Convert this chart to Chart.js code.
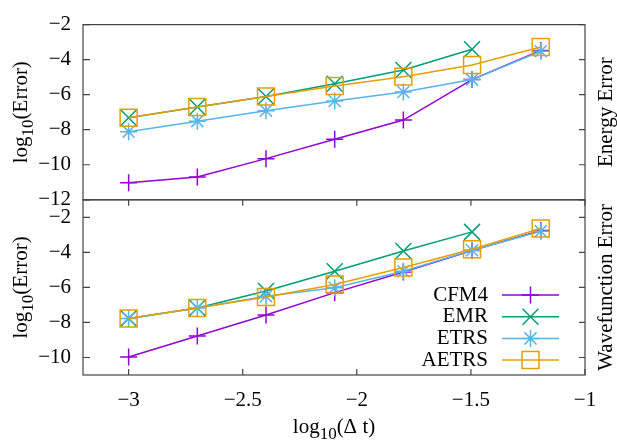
<!DOCTYPE html>
<html>
<head>
<meta charset="utf-8">
<script src="https://cdn.jsdelivr.net/npm/chart.js@4.4.0/dist/chart.umd.min.js"></script>
<style>
  html, body { margin: 0; padding: 0; background: #fff; }
</style>
</head>
<body>
<canvas id="errChart" width="617" height="440"></canvas>
<script>
// log10 of the time steps
const logDt = [-3, -2.699, -2.398, -2.097, -1.796, -1.495, -1.194];
const methods = ['CFM4', 'EMR', 'ETRS', 'AETRS'];

// top panel: energy error
const energyCFM4 = [-11.02, -10.70, -9.65, -8.54, -7.45, -5.14, -3.48];
const energyEMR = [-7.32, -6.70, -6.10, -5.38, -4.59, -3.41, null];
const energyETRS = [-8.11, -7.51, -6.92, -6.36, -5.85, -5.14, -3.52];
const energyAETRS = [-7.32, -6.70, -6.10, -5.50, -4.97, -4.31, -3.28];

// bottom panel: wavefunction error
const waveCFM4 = [-9.97, -8.77, -7.58, -6.30, -5.12, -3.90, -2.75];
const waveEMR = [-7.77, -7.17, -6.21, -5.08, -3.92, -2.83, null];
const waveETRS = [-7.77, -7.17, -6.50, -6.02, -5.08, -3.88, -2.79];
const waveAETRS = [-7.77, -7.17, -6.55, -5.84, -4.86, -3.82, -2.64];

const xTicks = [-3, -2.5, -2, -1.5, -1];
const xTickLabels = ['\u22123', '\u22122.5', '\u22122', '\u22121.5', '\u22121'];
const topTicks = [-12, -10, -8, -6, -4, -2];
const topTickLabels = ['\u221212', '\u221210', '\u22128', '\u22126', '\u22124', '\u22122'];
const botTicks = [-10, -8, -6, -4, -2];
const botTickLabels = ['\u221210', '\u22128', '\u22126', '\u22124', '\u22122'];

const yTitle = ['log', '10', '(Error)'];
const xTitle = ['log', '10', '(\u0394 t)'];
const topSideTitle = 'Energy Error';
const botSideTitle = 'Wavefunction Error';

// styles
const colors = ['#9400d3', '#009e73', '#56b4e9', '#e69f00'];
const markers = ['cross', 'crossRot', 'star', 'rect'];
const markerRadius = [8.5, 11.3, 8.5, 12];
const FONT = 'Liberation Serif';
const FS = 21;

function makeSets(series, axisId) {
    return series.map((vals, i) => ({
        label: methods[i],
        data: logDt.map((x, k) => ({ x: x, y: vals[k] })),
        yAxisID: axisId,
        borderColor: colors[i],
        backgroundColor: 'rgba(0,0,0,0)',
        borderWidth: 1.5,
        pointStyle: markers[i],
        pointRadius: markerRadius[i],
        pointBorderWidth: 1.5,
        pointBorderColor: colors[i],
        pointBackgroundColor: 'rgba(0,0,0,0)',
        order: 3 - i,
        tension: 0
    }));
}

function fixTicks(list) {
    return function (scale) {
        scale.ticks = list.map(v => ({ value: v }));
    };
}

// text with a subscript part, optionally rotated
function drawSubText(ctx, parts, x, y, rot) {
    const main = FS + 'px "' + FONT + '"';
    const sub = Math.round(FS * 0.8) + 'px "' + FONT + '"';
    let total = 0;
    const widths = parts.map((t, i) => {
        ctx.font = i === 1 ? sub : main;
        const w = ctx.measureText(t).width;
        total += w;
        return w;
    });
    ctx.save();
    ctx.translate(x, y);
    ctx.rotate(rot);
    ctx.fillStyle = '#000';
    ctx.textBaseline = 'alphabetic';
    ctx.textAlign = 'left';
    let cx = -total / 2;
    parts.forEach((t, i) => {
        ctx.font = i === 1 ? sub : main;
        ctx.fillText(t, cx, i === 1 ? 6 : 0);
        cx += widths[i];
    });
    ctx.restore();
}

const gnuFrame = {
    id: 'gnuFrame',
    afterDraw(chart) {
        const ctx = chart.ctx;
        const area = chart.chartArea;
        const xs = chart.scales.x;
        const yt = chart.scales.yTop;
        const yb = chart.scales.yBot;

        ctx.save();
        ctx.strokeStyle = '#444';
        ctx.lineWidth = 1.2;
        [yt, yb].forEach(s => {
            ctx.strokeRect(area.left, s.top, area.right - area.left, s.bottom - s.top);
            ctx.beginPath();
            s.ticks.forEach(t => {
                const py = s.getPixelForValue(t.value);
                ctx.moveTo(area.left, py);
                ctx.lineTo(area.left + 7, py);
                ctx.moveTo(area.right, py);
                ctx.lineTo(area.right - 6, py);
            });
            ctx.stroke();
        });
        ctx.beginPath();
        xs.ticks.forEach(t => {
            const px = xs.getPixelForValue(t.value);
            ctx.moveTo(px, yb.bottom);
            ctx.lineTo(px, yb.bottom - 6);
            ctx.moveTo(px, yb.top);
            ctx.lineTo(px, yb.top + 6);
        });
        ctx.stroke();
        ctx.restore();

        // axis titles
        const topMid = (yt.top + yt.bottom) / 2;
        const botMid = (yb.top + yb.bottom) / 2;
        drawSubText(ctx, yTitle, 26.5, topMid, -Math.PI / 2);
        drawSubText(ctx, yTitle, 26.5, botMid, -Math.PI / 2);
        drawSubText(ctx, xTitle, (area.left + area.right) / 2, 433, 0);

        ctx.save();
        ctx.fillStyle = '#000';
        ctx.font = FS + 'px "' + FONT + '"';
        ctx.textAlign = 'center';
        ctx.textBaseline = 'alphabetic';
        [[topSideTitle, topMid], [botSideTitle, botMid]].forEach(([t, my]) => {
            ctx.save();
            ctx.translate(612, my);
            ctx.rotate(-Math.PI / 2);
            ctx.fillText(t, 0, 0);
            ctx.restore();
        });

        // legend inside the bottom panel
        ctx.textAlign = 'right';
        ctx.textBaseline = 'middle';
        methods.forEach((m, i) => {
            const ly = 295 + i * 21.7;
            ctx.fillStyle = '#000';
            ctx.fillText(m, 488, ly);
            ctx.strokeStyle = colors[i];
            ctx.lineWidth = 1.5;
            ctx.beginPath();
            ctx.moveTo(502, ly);
            ctx.lineTo(559, ly);
            ctx.stroke();
            ctx.fillStyle = 'rgba(0,0,0,0)';
            Chart.helpers.drawPoint(ctx, {
                pointStyle: markers[i],
                radius: markerRadius[i],
                rotation: 0,
                borderWidth: 1.5
            }, 530.5, ly);
        });
        ctx.restore();
    }
};

const tickFont = { family: FONT, size: FS };

new Chart(document.getElementById('errChart'), {
    type: 'line',
    data: {
        datasets: makeSets([energyCFM4, energyEMR, energyETRS, energyAETRS], 'yTop')
            .concat(makeSets([waveCFM4, waveEMR, waveETRS, waveAETRS], 'yBot'))
    },
    options: {
        responsive: false,
        animation: false,
        layout: { padding: { top: 20, right: 32, left: 0, bottom: 0 } },
        plugins: { legend: { display: false }, tooltip: { enabled: false } },
        scales: {
            x: {
                type: 'linear',
                min: -3.2,
                max: -1,
                afterBuildTicks: fixTicks(xTicks),
                afterFit: s => { s.height = 65; },
                grid: { display: false, drawTicks: false },
                border: { display: false },
                ticks: {
                    font: tickFont, color: '#000', padding: 13,
                    autoSkip: false, maxRotation: 0,
                    callback: (v, i) => xTickLabels[i]
                }
            },
            yBot: {
                type: 'linear',
                position: 'left',
                stack: 'panels',
                stackWeight: 1,
                min: -11,
                max: -1,
                afterBuildTicks: fixTicks(botTicks),
                afterFit: s => { s.width = 83; },
                grid: { display: false, drawTicks: false },
                border: { display: false },
                ticks: {
                    font: tickFont, color: '#000', padding: 12,
                    autoSkip: false,
                    callback: (v, i) => botTickLabels[i]
                }
            },
            yTop: {
                type: 'linear',
                position: 'left',
                stack: 'panels',
                stackWeight: 1,
                min: -12,
                max: -2,
                afterBuildTicks: fixTicks(topTicks),
                afterFit: s => { s.width = 83; },
                grid: { display: false, drawTicks: false },
                border: { display: false },
                ticks: {
                    font: tickFont, color: '#000', padding: 12,
                    autoSkip: false,
                    callback: (v, i) => topTickLabels[i]
                }
            }
        }
    },
    plugins: [gnuFrame]
});
</script>
</body>
</html>
